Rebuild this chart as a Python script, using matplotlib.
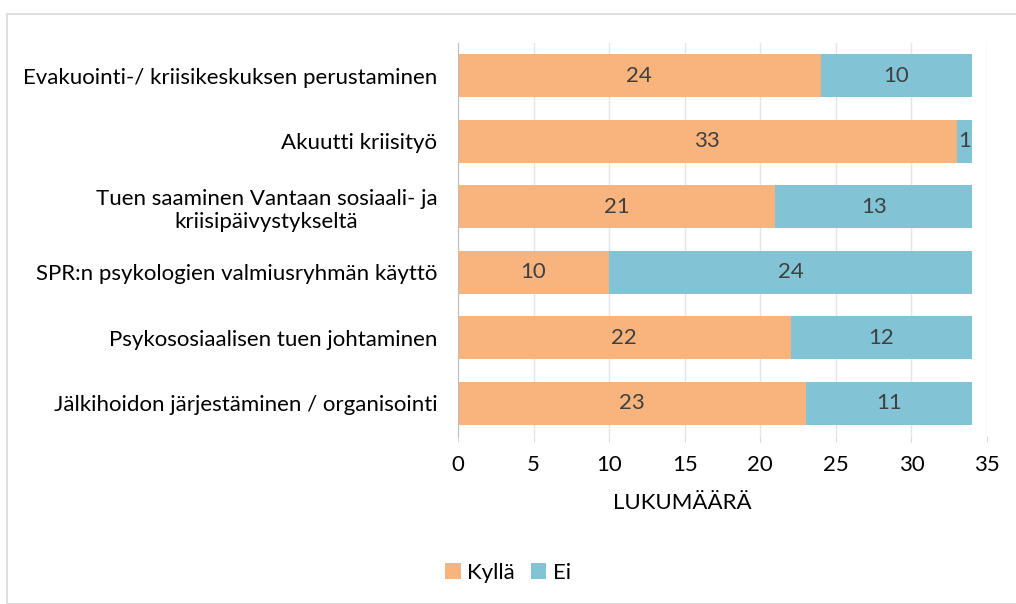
import matplotlib.pyplot as plt
from matplotlib.patches import Rectangle

kategoriat = [
    'Evakuointi-/ kriisikeskuksen perustaminen',
    'Akuutti kriisityö',
    'Tuen saaminen Vantaan sosiaali- ja\nkriisipäivystykseltä',
    'SPR:n psykologien valmiusryhmän käyttö',
    'Psykososiaalisen tuen johtaminen',
    'Jälkihoidon järjestäminen / organisointi',
]
kylla = [24, 33, 21, 10, 22, 23]
ei = [10, 1, 13, 24, 12, 11]

oranssi = '#F8B47C'
sininen = '#82C3D6'
plt.rcParams['font.family'] = ['Lato', 'DejaVu Sans']
fs = 16

fig = plt.figure(figsize=(10.16, 6.04), dpi=100)
W, H = 1016, 604
ax = fig.add_axes([458 / W, 1 - 436 / H, (987 - 458) / W, (436 - 43) / H])

# kehys koko kuvan ympärille
fig.patches.append(Rectangle((7 / W, 0), 1.2, 1 - 14 / H, transform=fig.transFigure,
                             fill=False, edgecolor='#D9D9D9', linewidth=1.2))

y = list(range(len(kategoriat)))
b1 = ax.barh(y, kylla, height=0.66, color=oranssi, label='Kyllä', zorder=3)
b2 = ax.barh(y, ei, left=kylla, height=0.66, color=sininen, label='Ei', zorder=3)
ax.bar_label(b1, label_type='center', fontsize=fs, color='#404040')
ax.bar_label(b2, label_type='center', fontsize=fs, color='#404040')

ax.set_xlim(0, 35)
ax.set_ylim(len(kategoriat) - 0.5, -0.5)
ax.set_xticks(range(0, 36, 5))
ax.set_yticks(y)
ax.set_yticklabels(kategoriat, fontsize=fs, color='#000000')
for lbl in ax.get_yticklabels():
    lbl.set_horizontalalignment('right')
    lbl.set_multialignment('center')
ax.tick_params(axis='y', length=0, pad=15)
ax.tick_params(axis='x', length=4, color='#D9D9D9', pad=10, labelsize=fs)
ax.grid(axis='x', color='#E5E5E5', linewidth=1, zorder=0)
for s in ['top', 'right', 'bottom']:
    ax.spines[s].set_visible(False)
ax.spines['left'].set_color('#BFBFBF')
ax.spines['left'].set_zorder(4)

fig.text(682 / W, 1 - 503 / H, 'LUKUMÄÄRÄ', ha='center', va='center', fontsize=fs)
fig.legend(handles=[b1, b2], loc='center', bbox_to_anchor=(508 / W, 1 - 573 / H),
           ncol=2, frameon=False, fontsize=fs, handlelength=0.7, handleheight=0.7,
           handletextpad=0.3, columnspacing=0.7)

fig.savefig('out.png', dpi=100)
